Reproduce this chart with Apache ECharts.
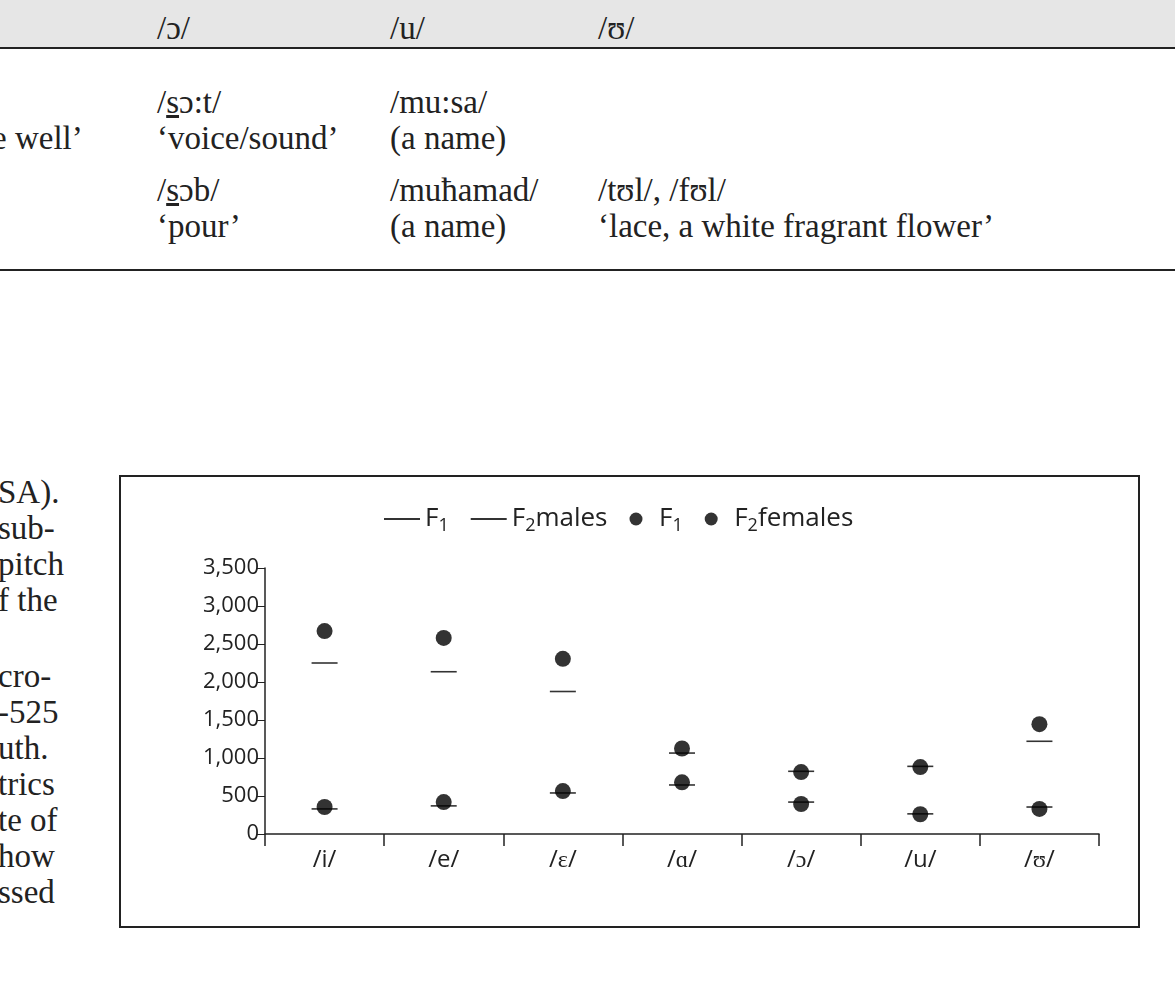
<!DOCTYPE html>
<html><head><meta charset="utf-8">
<script src="https://cdn.jsdelivr.net/npm/echarts@6/dist/echarts.min.js"></script>
<style>
body{margin:0;width:1175px;height:982px;background:#fff;position:relative;overflow:hidden;font-family:"Liberation Serif",serif;color:#222}
.t{position:absolute;font-size:33px;white-space:nowrap;line-height:1}
#hdr{position:absolute;left:0;top:0;width:1175px;height:47px;background:#e6e6e6;border-bottom:2px solid #222}
#rule{position:absolute;left:0;top:269px;width:1175px;height:2px;background:#222}
#box{position:absolute;left:119px;top:475px;width:1017px;height:449px;border:2px solid #222}
#chart{position:absolute;left:0;top:0;width:1017px;height:449px}
</style></head><body>
<div id="hdr"></div>
<div class="t" style="left:157px;top:12px">/ɔ/</div>
<div class="t" style="left:390px;top:12px">/u/</div>
<div class="t" style="left:598px;top:12px">/ʊ/</div>
<div id="rule"></div>
<div class="t" style="left:157px;top:86px">/<u>s</u>ɔ:t/</div>
<div class="t" style="left:-8px;top:122px">e well’</div>
<div class="t" style="left:157px;top:122px">‘voice/sound’</div>
<div class="t" style="left:157px;top:174px">/<u>s</u>ɔb/</div>
<div class="t" style="left:157px;top:210px">‘pour’</div>
<div class="t" style="left:390px;top:86px">/mu:sa/</div>
<div class="t" style="left:390px;top:122px">(a name)</div>
<div class="t" style="left:390px;top:174px">/muħamad/</div>
<div class="t" style="left:390px;top:210px">(a name)</div>
<div class="t" style="left:598px;top:174px">/tʊl/, /fʊl/</div>
<div class="t" style="left:598px;top:210px">‘lace, a white fragrant flower’</div>
<div class="t" style="left:-2px;top:476px">SA).</div>
<div class="t" style="left:-2px;top:512px">sub-</div>
<div class="t" style="left:-2px;top:548px">pitch</div>
<div class="t" style="left:-2px;top:584px">f the</div>
<div class="t" style="left:-2px;top:660px">cro-</div>
<div class="t" style="left:-2px;top:696px">-525</div>
<div class="t" style="left:-2px;top:732px">uth.</div>
<div class="t" style="left:-2px;top:768px">trics</div>
<div class="t" style="left:-2px;top:804px">te of</div>
<div class="t" style="left:-2px;top:840px">how</div>
<div class="t" style="left:-2px;top:876px">ssed</div>
<div id="box"><div id="chart"></div></div>
<script>
const categories=['/i/','/e/','/ɛ/','/ɑ/','/ɔ/','/u/','/ʊ/'];
const maleF1=[330,370,540,645,420,265,355];
const maleF2=[2250,2135,1875,1065,825,890,1220];
const femaleF1=[355,420,565,680,395,260,330];
const femaleF2=[2670,2580,2305,1125,815,880,1445];
const yTicks=[0,500,1000,1500,2000,2500,3000,3500];
const lineIcon='path://M0,0H30V1.5H0Z';
const names={m1:'{a|F}{s|1}',m2:'{a|F}{s|2}{a|males}',f1:'{a|F}{s|1}',f2:'{a|F}{s|2}{a|females}'};
const chart=echarts.init(document.getElementById('chart'));
function ser(id,data,sym){return {id:id,name:id,type:'scatter',data:data,symbol:sym==='line'?'rect':'circle',symbolSize:sym==='line'?[26,1.6]:16,itemStyle:{color:'#000'},emphasis:{disabled:true}};}
chart.setOption({
 animation:false,
 textStyle:{fontFamily:'Open Sans',color:'#222'},
 legend:{top:24,left:258,itemGap:22,itemWidth:36,itemHeight:13,
   data:[{name:'m1',icon:lineIcon},{name:'m2',icon:lineIcon},{name:'f1',icon:'circle'},{name:'f2',icon:'circle'}],
   formatter:n=>names[n],
   textStyle:{fontSize:26,color:'#222',rich:{a:{fontSize:26,color:'#222',fontFamily:'Open Sans'},s:{fontSize:18,color:'#222',fontFamily:'Open Sans',padding:[14,0,0,0]}}}},
 grid:{left:144,right:39,top:91,bottom:92},
 xAxis:{type:'category',data:categories,axisLine:{lineStyle:{color:'#222',width:1.5}},
   axisTick:{show:true,interval:0,lineStyle:{color:'#222',width:1.5},length:12},axisLabel:{fontSize:24,color:'#222',margin:14}},
 yAxis:{type:'value',min:0,max:3500,interval:500,splitLine:{show:false},
   axisLine:{show:true,lineStyle:{color:'#222',width:1.5}},axisTick:{show:true,length:8,lineStyle:{color:'#222'}},
   axisLabel:{fontSize:22,color:'#222',margin:6,formatter:v=>yTicks.includes(v)?v.toLocaleString('en-US'):''}},
 series:[ser('m1',maleF1,'line'),ser('m2',maleF2,'line'),ser('f1',femaleF1,'dot'),ser('f2',femaleF2,'dot')]
});
</script></body></html>
